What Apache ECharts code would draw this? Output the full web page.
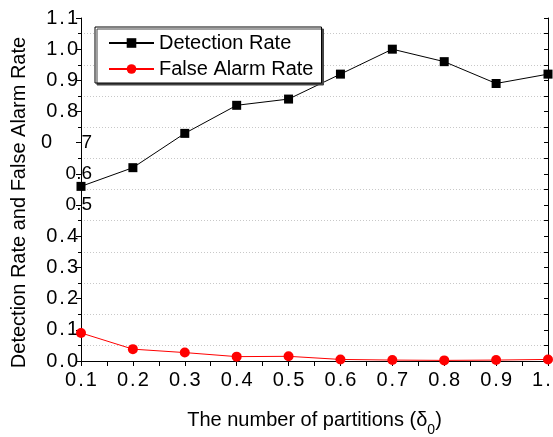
<!DOCTYPE html>
<html>
<head>
<meta charset="utf-8" />
<script src="https://cdn.jsdelivr.net/npm/echarts@6/dist/echarts.min.js"></script>
<style>
  html, body { margin: 0; padding: 0; background: #fff; }
  #chart { width: 553px; height: 437px; }
</style>
</head>
<body>
<div id="chart"></div>
<script type="text/javascript">
// 数据
var partitions = [0.1, 0.2, 0.3, 0.4, 0.5, 0.6, 0.7, 0.8, 0.9, 1.0];
var detectionRate = [0.56, 0.62, 0.73, 0.82, 0.84, 0.92, 1.0, 0.96, 0.89, 0.92];
var falseAlarmRate = [0.09, 0.038, 0.027, 0.014, 0.015, 0.005, 0.003, 0.002, 0.003, 0.005];
// 左侧错位的刻度标签 (原图中 0.5 / 0.6 / 0.7 偏移)
var shiftedLabels = { 5: '0.5', 6: '0.6', 7: '7' };

var font = '"Liberation Sans", Arial, sans-serif';

function pair(xs, ys) {
    return xs.map(function (x, i) { return [x, ys[i]]; });
}
// 把小数点单独拿出来加宽间距
function spaced(v) {
    var s = v.toFixed(1).split('.');
    return '{d|' + s[0] + '}{p|.}{d|' + s[1] + '}';
}
var tickRich = {
    d: { fontSize: 20, fontFamily: font, color: '#000' },
    p: { fontSize: 20, fontFamily: font, color: '#000', padding: [0, 2, 0, 2] },
    z: { fontSize: 20, fontFamily: font, color: '#000', padding: [0, 26, 0, 0] }
};

var myChart = echarts.init(document.getElementById('chart'));

var option = {
    animation: false,
    backgroundColor: '#fff',
    grid: { left: 81, right: 5, top: 18, bottom: 76, outerBoundsMode: 'none', containLabel: false },
    legend: {
        orient: 'vertical',
        left: 95, top: 27,
        padding: [6, 8, 4, 13],
        itemWidth: 45, itemHeight: 12, itemGap: 6,
        backgroundColor: '#fff',
        borderColor: '#000', borderWidth: 1,
        shadowColor: '#444', shadowOffsetX: 2, shadowOffsetY: 2, shadowBlur: 0,
        textStyle: { fontSize: 20, fontFamily: font, color: '#000', lineHeight: 18 },
        data: ['Detection Rate', 'False Alarm Rate']
    },
    xAxis: [{
        type: 'value', min: 0.1, max: 1.0, interval: 0.1,
        name: '{n|The number of partitions (δ}{s|0}{n|)}',
        nameLocation: 'middle', nameGap: 42,
        nameTextStyle: {
            rich: {
                n: { fontSize: 20, fontFamily: font, color: '#000', lineHeight: 34, verticalAlign: 'middle' },
                s: { fontSize: 14, fontFamily: font, color: '#000', lineHeight: 34, verticalAlign: 'bottom' }
            }
        },
        axisLine: { lineStyle: { color: '#000', width: 1 } },
        axisTick: { length: 4, lineStyle: { color: '#000' } },
        minorTick: { show: true, splitNumber: 2, length: 3, lineStyle: { color: '#000' } },
        splitLine: { show: false },
        axisLabel: { margin: 9, formatter: spaced, rich: tickRich }
    }, {
        type: 'value', min: 0.1, max: 1.0, interval: 0.1, position: 'top',
        axisLine: { lineStyle: { color: '#000', width: 1 } },
        axisTick: { inside: true, length: 5, lineStyle: { color: '#000' } },
        minorTick: { show: true, splitNumber: 2, length: 5, lineStyle: { color: '#000' } },
        splitLine: { show: false },
        axisLabel: { show: false }
    }],
    yAxis: [{
        type: 'value', min: 0, max: 1.1, interval: 0.1,
        name: 'Detection Rate and False Alarm Rate',
        nameLocation: 'middle', nameGap: 49,
        nameTextStyle: { fontSize: 20, fontFamily: font, color: '#000', padding: [0, 26, 0, 0] },
        axisLine: { show: true, lineStyle: { color: '#000', width: 1 } },
        axisTick: { length: 5, lineStyle: { color: '#000' } },
        minorTick: { show: true, splitNumber: 2, length: 3, lineStyle: { color: '#000' } },
        splitLine: { show: false },
        minorSplitLine: { show: true, lineStyle: { color: '#c8c8c8', type: [1, 2], width: 1 } },
        axisLabel: {
            margin: 3,
            formatter: function (v) {
                var k = Math.round(v * 10);
                if (k === 5 || k === 6) return '';
                if (k === 7) return '{z|0}';
                return spaced(v);
            },
            rich: tickRich
        }
    }, {
        type: 'value', min: 0, max: 1.1, interval: 0.1, position: 'right',
        axisLine: { show: true, lineStyle: { color: '#000', width: 1 } },
        axisTick: { inside: true, length: 4, lineStyle: { color: '#000' } },
        minorTick: { show: true, splitNumber: 2, length: 4, lineStyle: { color: '#000' } },
        splitLine: { show: false },
        axisLabel: { show: false }
    }, {
        type: 'value', min: 0, max: 1.1, interval: 0.1, position: 'left',
        axisLine: { show: false }, axisTick: { show: false }, splitLine: { show: false },
        axisLabel: {
            margin: -11, fontSize: 19, fontFamily: font, color: '#000',
            formatter: function (v) {
                return shiftedLabels[Math.round(v * 10)] || '';
            }
        }
    }],
    series: [{
        name: 'Detection Rate',
        type: 'line',
        data: pair(partitions, detectionRate),
        symbol: 'rect', symbolSize: 9,
        lineStyle: { color: '#000', width: 1 },
        itemStyle: { color: '#000' }
    }, {
        name: 'False Alarm Rate',
        type: 'line',
        data: pair(partitions, falseAlarmRate),
        symbol: 'circle', symbolSize: 10,
        lineStyle: { color: '#ff0000', width: 1 },
        itemStyle: { color: '#ff0000' }
    }]
};
myChart.setOption(option);
</script>
</body>
</html>
